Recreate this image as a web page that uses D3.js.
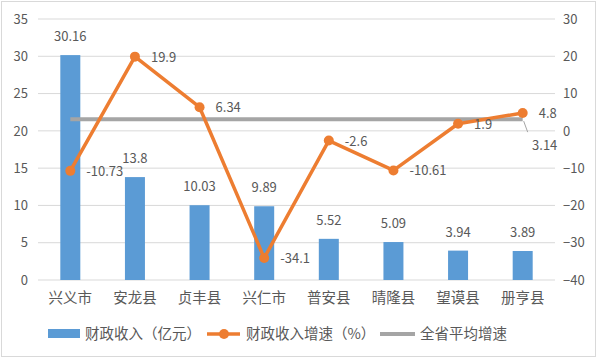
<!DOCTYPE html>
<html><head><meta charset="utf-8">
<script src="https://cdn.jsdelivr.net/npm/d3@7"></script>
<style>body{margin:0;background:#fff}text{font-family:"Microsoft YaHei","Noto Sans CJK SC",sans-serif;fill:#595959}</style>
</head><body><svg id="c" width="597" height="359"></svg>
<script>
const categories=["兴义市","安龙县","贞丰县","兴仁市","普安县","晴隆县","望谟县","册亨县"];
const revenue=[30.16,13.8,10.03,9.89,5.52,5.09,3.94,3.89];
const growth=[-10.73,19.9,6.34,-34.1,-2.6,-10.61,1.9,4.8];
const provinceAvg=[3.14,3.14,3.14,3.14,3.14,3.14,3.14,3.14];
const leftTicks=[0,5,10,15,20,25,30,35];
const rightTicks=[-40,-30,-20,-10,0,10,20,30];
const legendLabels=["财政收入（亿元）","财政收入增速（%）","全省平均增速"];
const blue="#5B9BD5",orange="#ED7D31",gray="#A5A5A5";

const svg=d3.select("#c");
svg.append("rect").attr("x",1.5).attr("y",1.5).attr("width",594).attr("height",355).attr("fill","#fff").attr("stroke","#D9D9D9");
const L=38,R=555,T=19,B=280;
const x=d3.scaleBand().domain(categories).range([L,R]);
const yL=d3.scaleLinear().domain([0,35]).range([B,T]);
const yR=d3.scaleLinear().domain([-40,30]).range([B,T]);
const cx=d=>x(d)+x.bandwidth()/2;

svg.append("g").selectAll("line").data(leftTicks).join("line")
 .attr("x1",L).attr("x2",R).attr("y1",d=>yL(d)).attr("y2",d=>yL(d))
 .attr("stroke","#D9D9D9").attr("stroke-width",1);

const gl=svg.append("g").attr("transform",`translate(${L},0)`).call(d3.axisLeft(yL).tickValues(leftTicks).tickSize(0).tickPadding(10));
const gr=svg.append("g").attr("transform",`translate(${R},0)`).call(d3.axisRight(yR).tickValues(rightTicks).tickSize(0).tickPadding(8));
const gx=svg.append("g").attr("transform",`translate(0,${B})`).call(d3.axisBottom(x).tickSize(0).tickPadding(10));
[gl,gr,gx].forEach(g=>{g.select(".domain").remove();g.selectAll("text").attr("fill","#595959").style("font-family",'"Microsoft YaHei","Noto Sans CJK SC",sans-serif');});
gl.selectAll("text").attr("font-size",13);
gr.selectAll("text").attr("font-size",13);
gx.selectAll("text").attr("font-size",14.5).attr("dy","0.9em");

const bw=20;
svg.append("g").selectAll("rect").data(revenue).join("rect")
 .attr("x",(d,i)=>cx(categories[i])-bw/2).attr("width",bw)
 .attr("y",d=>yL(d)).attr("height",d=>B-yL(d)).attr("fill",blue);
svg.append("g").selectAll("text").data(revenue).join("text")
 .attr("x",(d,i)=>cx(categories[i])).attr("y",d=>yL(d)-14)
 .attr("text-anchor","middle").attr("font-size",13).text(d=>d);

const line=d3.line().x((d,i)=>cx(categories[i])).y(d=>yR(d));
svg.append("path").datum(provinceAvg).attr("d",line).attr("fill","none").attr("stroke",gray).attr("stroke-width",4);
svg.append("path").datum(growth).attr("d",line).attr("fill","none").attr("stroke",orange).attr("stroke-width",3.5).attr("stroke-linejoin","round");
svg.append("g").selectAll("circle").data(growth).join("circle")
 .attr("cx",(d,i)=>cx(categories[i])).attr("cy",d=>yR(d)).attr("r",5).attr("fill",orange);
svg.append("g").selectAll("text").data(growth).join("text")
 .attr("x",(d,i)=>cx(categories[i])+16).attr("y",d=>yR(d)+5)
 .attr("font-size",13).text(d=>d);
const last=categories[categories.length-1];
const ay=yR(provinceAvg[provinceAvg.length-1]);
svg.append("line").attr("x1",cx(last)+1).attr("y1",ay+2).attr("x2",cx(last)+5).attr("y2",ay+13).attr("stroke",gray).attr("stroke-width",1);
svg.append("text").attr("x",cx(last)+22).attr("y",ay+31).attr("text-anchor","middle").attr("font-size",13).text(provinceAvg[provinceAvg.length-1]);

const lg=svg.append("g").attr("transform","translate(0,334)");
lg.append("rect").attr("x",48).attr("y",-5).attr("width",32).attr("height",9).attr("fill",blue);
lg.append("text").attr("x",85).attr("y",5).attr("font-size",14.5).text(legendLabels[0]);
lg.append("line").attr("x1",207).attr("x2",240).attr("y1",0).attr("y2",0).attr("stroke",orange).attr("stroke-width",3.5);
lg.append("circle").attr("cx",224).attr("cy",0).attr("r",5).attr("fill",orange);
lg.append("text").attr("x",246).attr("y",5).attr("font-size",14.5).text(legendLabels[1]);
lg.append("line").attr("x1",380).attr("x2",415).attr("y1",0).attr("y2",0).attr("stroke",gray).attr("stroke-width",4);
lg.append("text").attr("x",420).attr("y",5).attr("font-size",14.5).text(legendLabels[2]);
</script></body></html>
